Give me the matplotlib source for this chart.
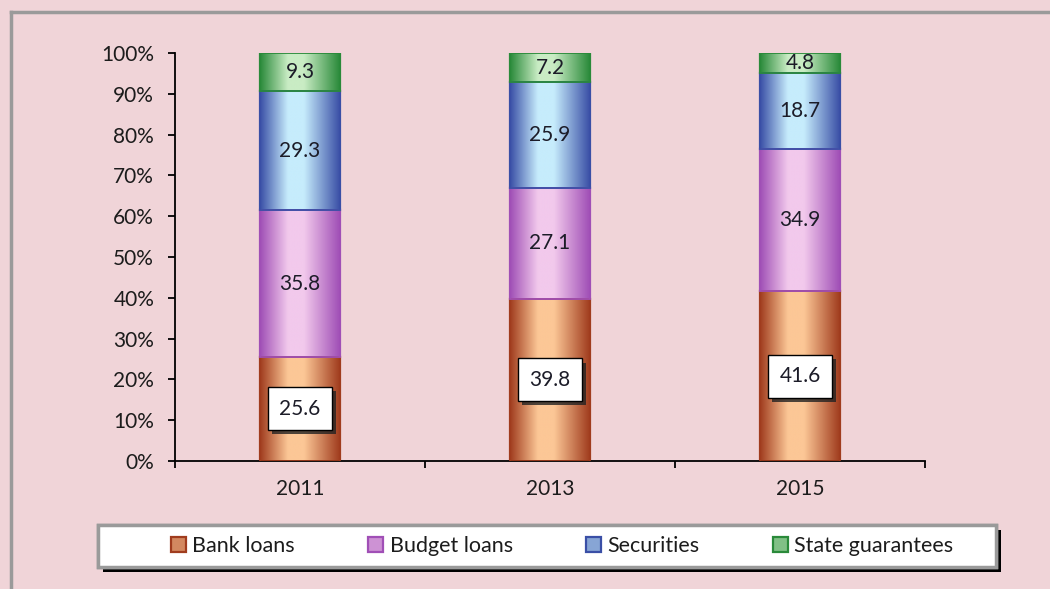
import numpy as np
import matplotlib.pyplot as plt
import matplotlib.patheffects as pe
from matplotlib.colors import LinearSegmentedColormap, to_rgb
from matplotlib.patches import Rectangle
from matplotlib.lines import Line2D

plt.rcParams['font.family'] = ['Lato', 'DejaVu Sans']

# data (% shares)
years = ["2011", "2013", "2015"]
series = ["Bank loans", "Budget loans", "Securities", "State guarantees"]
bank = [25.6, 39.8, 41.6]
budget = [35.8, 27.1, 34.9]
securities = [29.3, 25.9, 18.7]
guarantees = [9.3, 7.2, 4.8]

# (edge/dark, light centre)
colors = [("#a03c1e", "#fcc796"),
          ("#a04fb6", "#f2c9ec"),
          ("#3a4fa6", "#c6ecfc"),
          ("#2a8a3a", "#c9ecc4")]

bg = "#f0d4d8"
fig = plt.figure(figsize=(10.5, 5.89), dpi=100, facecolor=bg)
ax = fig.add_axes([175/1050, 1-461/589, 750/1050, 408/589])
ax.set_facecolor(bg)

x = np.arange(len(years))
grad = np.linspace(0, 1, 256).reshape(1, -1)
bottom = np.zeros(len(years))
containers = []
for vals, name, (dark, light) in zip([bank, budget, securities, guarantees], series, colors):
    cmap = LinearSegmentedColormap.from_list(name, [(0, dark), (0.35, light), (0.55, light), (1, dark)])
    mid = 0.45 * np.array(to_rgb(dark)) + 0.55 * np.array(to_rgb(light))
    bars = ax.bar(x, vals, width=0.32, bottom=bottom, color=mid, edgecolor=dark,
                  linewidth=1.6, label=name, zorder=2)
    for r in bars:
        im = ax.imshow(grad, cmap=cmap, aspect="auto", zorder=2.5,
                       extent=(r.get_x(), r.get_x() + r.get_width(), r.get_y(), r.get_y() + r.get_height()))
        im.set_clip_path(r)
    # outline on top of the gradient
    for r in bars:
        ax.add_patch(Rectangle((r.get_x(), r.get_y()), r.get_width(), r.get_height(),
                               fill=False, edgecolor=dark, linewidth=1.3, zorder=3))
    containers.append(bars)
    bottom += np.array(vals)

ax.set_xlim(-0.5, 2.5)
ax.set_ylim(0, 100)

# value labels
for i, bars in enumerate(containers):
    texts = ax.bar_label(bars, labels=[f"{v:.1f}" for v in bars.datavalues], label_type="center",
                         fontsize=15, color="#1c1c28", zorder=5)
    if i == 0:
        for t in texts:
            t.set_bbox(dict(boxstyle="square,pad=0.55", facecolor="white", edgecolor="black", linewidth=1))
            t.get_bbox_patch().set_path_effects([pe.withSimplePatchShadow(offset=(3, -3), shadow_rgbFace="#222", alpha=0.8)])

# axes styling
for s in ["top", "right"]:
    ax.spines[s].set_visible(False)
ax.spines["left"].set_linewidth(1.3)
ax.spines["bottom"].set_linewidth(1.3)
ax.set_yticks(np.arange(0, 101, 10))
ax.set_yticklabels([f"{v}%" for v in range(0, 101, 10)])
ax.tick_params(axis="y", direction="out", length=5, width=1.3, pad=10, labelsize=15, labelcolor="#1c1c1c")
ax.set_xticks(x)
ax.set_xticklabels(years)
ax.set_xticks([-0.5, 0.5, 1.5, 2.5], minor=True)
ax.tick_params(axis="x", which="major", length=0, pad=13, labelsize=15, labelcolor="#1c1c1c")
ax.tick_params(axis="x", which="minor", direction="out", length=5, width=1.3)

# outer frame (left + top)
fig.add_artist(Line2D([11/1050, 11/1050], [0, 1-12/589], transform=fig.transFigure, color="#9a9a9a", linewidth=2.5))
fig.add_artist(Line2D([11/1050, 1], [1-12/589, 1-12/589], transform=fig.transFigure, color="#9a9a9a", linewidth=2.5))

# legend box
box = Rectangle((98/1050, 1-567/589), 898/1050, 42/589, transform=fig.transFigure,
                facecolor="white", edgecolor="#9a9a9a", linewidth=2.5, zorder=1)
box.set_path_effects([pe.withSimplePatchShadow(offset=(3.5, -3.5), shadow_rgbFace="black", alpha=1), pe.Normal()])
fig.add_artist(box)
leg = fig.legend(loc="center", bbox_to_anchor=(562/1050, 1-546/589), ncol=4, frameon=False,
                 fontsize=15.5, handlelength=0.7, handleheight=0.7, handletextpad=0.3,
                 columnspacing=3.4, labelcolor="#1c1c1c")
leg.set_zorder(5)

fig.savefig("out.png", dpi=100, facecolor=bg)
